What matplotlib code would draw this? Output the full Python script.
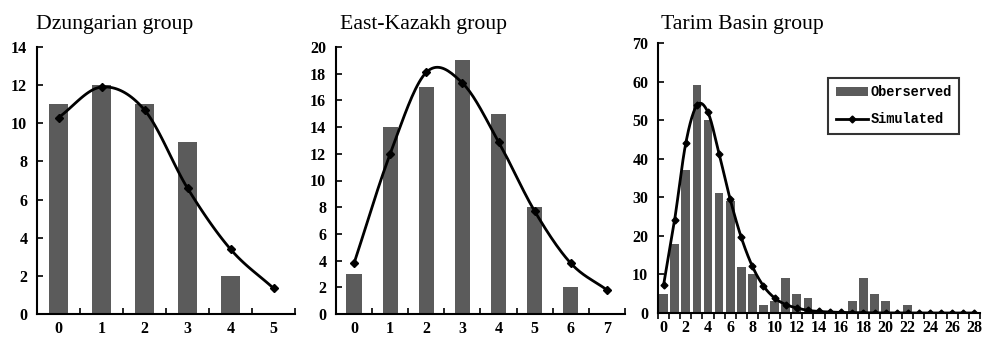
import numpy as np
import matplotlib
matplotlib.use("Agg")
import matplotlib.pyplot as plt
from matplotlib.lines import Line2D
from matplotlib.patches import Patch

# ---------------- data ----------------
titles = ["Dzungarian group", "East-Kazakh group", "Tarim Basin group"]

dz_x = [0, 1, 2, 3, 4, 5]
dz_obs = [11, 12, 11, 9, 2, 0]
dz_sim = [10.3, 11.9, 10.7, 6.6, 3.4, 1.35]

ek_x = [0, 1, 2, 3, 4, 5, 6, 7]
ek_obs = [3, 14, 17, 19, 15, 8, 2, 0]
ek_sim = [3.8, 12.0, 18.1, 17.3, 12.9, 7.7, 3.8, 1.8]

tb_x = list(range(29))
tb_obs = [5, 18, 37, 59, 50, 31, 29, 12, 10, 2, 3, 9, 5, 4, 0, 0, 0, 3, 9, 5, 3, 0, 2,
          0, 0, 0, 0, 0, 0]
tb_sim = [7.2, 24.2, 44.0, 53.8, 52.0, 41.3, 29.5, 19.6, 12.1, 7.0, 3.9, 2.2, 1.3, 0.7,
          0.4, 0.25, 0.15, 0.1, 0.05, 0.03, 0.02, 0.01, 0.01, 0, 0, 0, 0, 0, 0]

legend_labels = ["Oberserved", "Simulated"]

BAR_C = "#5b5b5b"
SERIF = "Liberation Serif"
MONO = "Liberation Mono"


def smooth(x, y, n=20):
    """Catmull-Rom spline through the points (Excel-like smoothed line)."""
    x = np.asarray(x, float)
    y = np.asarray(y, float)
    px = np.concatenate([[2 * x[0] - x[1]], x, [2 * x[-1] - x[-2]]])
    py = np.concatenate([[2 * y[0] - y[1]], y, [2 * y[-1] - y[-2]]])
    xs, ys = [], []
    t = np.linspace(0, 1, n, endpoint=False)
    for i in range(1, len(px) - 2):
        p0, p1, p2, p3 = (np.array([px[j], py[j]]) for j in (i - 1, i, i + 1, i + 2))
        for tt in t:
            pt = 0.5 * ((2 * p1) + (-p0 + p2) * tt + (2 * p0 - 5 * p1 + 4 * p2 - p3) * tt ** 2
                        + (-p0 + 3 * p1 - 3 * p2 + p3) * tt ** 3)
            xs.append(pt[0]); ys.append(pt[1])
    xs.append(x[-1]); ys.append(y[-1])
    return np.array(xs), np.array(ys)


W, H = 986, 341
fig = plt.figure(figsize=(W / 100, H / 100), dpi=100)


def px_axes(l, r, t, b):
    return fig.add_axes([l / W, 1 - b / H, (r - l) / W, (b - t) / H])


panels = [
    dict(rect=(37, 295, 47, 314), x=dz_x, obs=dz_obs, sim=dz_sim, ymax=14, ystep=2,
         bw=0.42, labstep=1, tdir="in", ms=4.5, tx=36),
    dict(rect=(336, 625, 47, 314), x=ek_x, obs=ek_obs, sim=ek_sim, ymax=20, ystep=2,
         bw=0.42, labstep=1, tdir="in", ms=4.5, tx=340),
    dict(rect=(658, 980, 43, 313), x=tb_x, obs=tb_obs, sim=tb_sim, ymax=70, ystep=10,
         bw=0.78, labstep=2, tdir="out", ms=3.5, tx=661),
]

for i, p in enumerate(panels):
    ax = px_axes(*p["rect"])
    x = np.array(p["x"])
    ax.bar(x, p["obs"], width=p["bw"], color=BAR_C, zorder=2)
    sx, sy = smooth(x, p["sim"])
    ax.plot(sx, sy, color="black", lw=2.0, zorder=3)
    ax.plot(x, p["sim"], ls="none", marker="D", ms=p["ms"], color="black", zorder=4)

    ax.set_xlim(-0.5, len(x) - 0.5)
    ax.set_ylim(0, p["ymax"])
    ax.set_yticks(np.arange(0, p["ymax"] + 1, p["ystep"]))
    ax.set_xticks(x[::p["labstep"]])
    ax.set_xticks(np.arange(-0.5, len(x), 1.0), minor=True)

    for s in ("top", "right"):
        ax.spines[s].set_visible(False)
    for s in ("left", "bottom"):
        ax.spines[s].set_linewidth(1.5)
        ax.spines[s].set_color("black")

    ax.tick_params(axis="x", which="major", length=0, pad=5)
    ax.tick_params(axis="x", which="minor", direction=p["tdir"], length=4, width=1.2)
    ax.tick_params(axis="y", which="major", direction="in", length=4, width=1.2, pad=7)
    for lab in ax.get_xticklabels() + ax.get_yticklabels():
        lab.set_fontfamily(SERIF)
        lab.set_fontweight("bold")
        lab.set_fontsize(11.5)

    fig.text(p["tx"] / W, 1 - 29 / H, titles[i], fontfamily=SERIF, fontsize=15.7,
             ha="left", va="baseline")

    if i == 2:
        handles = [Patch(facecolor=BAR_C, edgecolor="none"),
                   Line2D([0], [0], color="black", lw=2.0, marker="D", ms=3.5)]
        leg = ax.legend(handles, legend_labels, loc="upper right",
                        bbox_to_anchor=((959 - 658) / 322, (313 - 78) / 270),
                        frameon=True, fancybox=False, edgecolor="black",
                        prop=dict(family=MONO, weight="bold", size=9.8),
                        handlelength=2.4, handleheight=0.6, handletextpad=0.15,
                        borderpad=0.55, labelspacing=0.95, borderaxespad=0)
        leg.get_frame().set_linewidth(1.5)

fig.savefig("out.png", dpi=100, facecolor="white")
